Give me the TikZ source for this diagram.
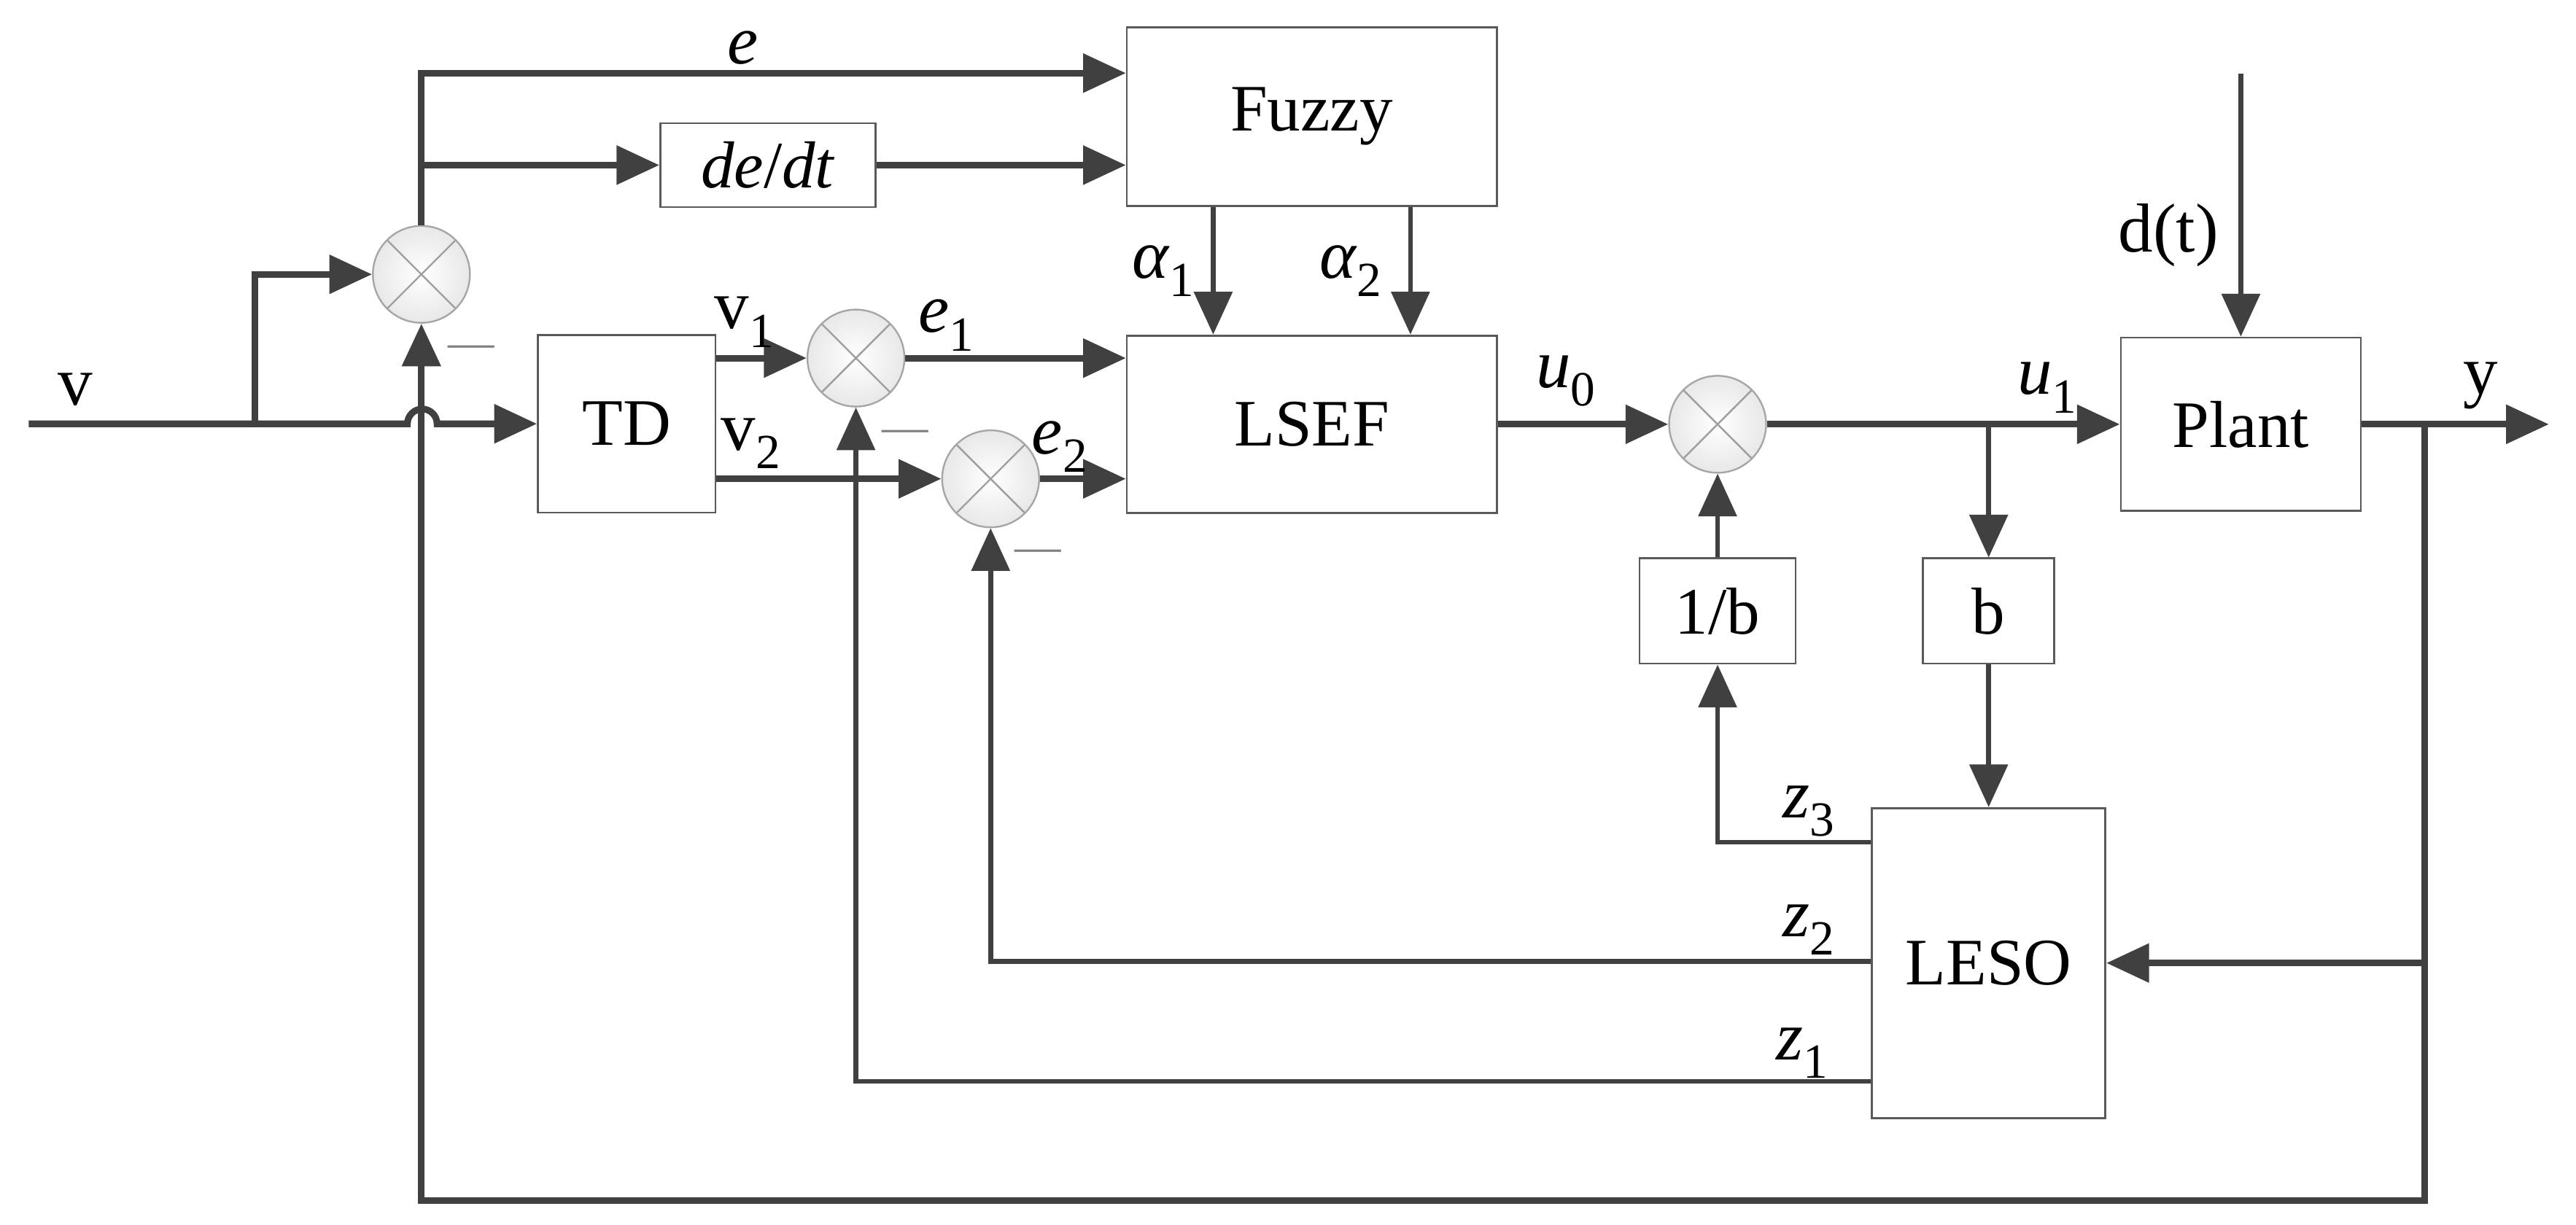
\documentclass[tikz,border=0pt]{standalone}
\usepackage{fontspec}
\setmainfont{Liberation Serif}
\usetikzlibrary{arrows.meta,calc}
\definecolor{ln}{HTML}{404040}
\definecolor{bx}{HTML}{5A5A5A}
\newcommand\sbx[1]{\raisebox{-3.2pt}{\fontsize{8.5}{8.5}\selectfont #1}}
\begin{document}
\begin{tikzpicture}[x=0.01cm,y=-0.01cm,
  font=\fontsize{12}{14}\selectfont,
  >={Triangle[length=0.26cm,width=0.23cm]},
  blk/.style={draw=bx,line width=0.35pt,inner sep=0pt,font=\fontsize{11.5}{13.5}\selectfont},
  sumj/.style={circle,draw=gray!70,line width=0.3pt,inner sep=0pt,minimum size=0.59cm,
    inner color=white,outer color=gray!18,
    path picture={\draw[gray!75,line width=0.3pt]
      (path picture bounding box.north west)--(path picture bounding box.south east)
      (path picture bounding box.north east)--(path picture bounding box.south west);}},
  arr/.style={draw=ln,line width=1.15pt,->},
  arrm/.style={draw=ln,line width=0.85pt,->},
  minus/.style={text=gray,font=\fontsize{8}{8}\selectfont,inner sep=0pt}
]
\useasboundingbox (0,0) rectangle (1568,745.8);
\fill[white] (0,0) rectangle (1568,745.8);

% blocks
\node[blk,minimum width=2.25cm,minimum height=1.09cm] (Fuzzy) at (798.5,71) {Fuzzy};
\node[blk,minimum width=1.31cm,minimum height=0.51cm] (dedt) at (467.5,100.5) {\textit{de}/\textit{dt}};
\node[blk,minimum width=1.08cm,minimum height=1.08cm] (TD) at (381.5,258) {TD};
\node[blk,minimum width=2.25cm,minimum height=1.08cm] (LSEF) at (798.5,258.3) {LSEF};
\node[blk,minimum width=1.46cm,minimum height=1.055cm] (Plant) at (1364,258.3) {Plant};
\node[blk,minimum width=0.95cm,minimum height=0.64cm] (inv) at (1045.5,372) {1/b};
\node[blk,minimum width=0.8cm,minimum height=0.64cm] (bb) at (1210.5,372) {b};
\node[blk,minimum width=1.42cm,minimum height=1.885cm] (LESO) at (1210.5,586.3) {LESO};

% summing junctions
\node[sumj] (s1) at (256.5,167) {};
\node[sumj] (s2) at (521,218) {};
\node[sumj] (s3) at (603,291.5) {};
\node[sumj] (s4) at (1045.5,258.3) {};

% free ends and branch points
\coordinate (vin) at (17.5,258);
\coordinate (vb) at (155,258);
\coordinate (yout) at (1551.5,258.3);
\coordinate (yb) at (1476,258.3);
\coordinate (ybot) at (1476,731);
\coordinate (dtin) at (1364,45);

% input and error paths
\draw[arr] (vin) -- (248,258) arc[start angle=180,end angle=0,radius=0.09cm] -- (TD.west);
\draw[arr] (vb) |- (s1.west);
\draw[arr] (s1.north) |- ([yshift=0.265cm]Fuzzy.west);
\draw[arr] (s1.north |- dedt.west) -- (dedt.west);
\draw[arr] (dedt.east) -- (dedt.east -| Fuzzy.west);
\draw[arrm] ([xshift=-0.6cm]Fuzzy.south) -- ([xshift=-0.6cm]LSEF.north);
\draw[arrm] ([xshift=0.6cm]Fuzzy.south) -- ([xshift=0.6cm]LSEF.north);

\draw[arr] (TD.east |- s2.west) -- (s2.west);
\draw[arr] (TD.east |- s3.west) -- (s3.west);
\draw[arr] (s2.east) -- (s2.east -| LSEF.west);
\draw[arr] (s3.east) -- (s3.east -| LSEF.west);

\draw[arr] (LSEF.east) -- (s4.west);
\draw[arr] (s4.east) -- (Plant.west);
\draw[arrm] (bb.north |- s4.east) -- (bb.north);
\draw[arrm] (bb.south) -- (LESO.north);
\draw[arrm] (inv.north) -- (s4.south);
\draw[arrm] (dtin) -- (Plant.north);

\draw[arr] (Plant.east) -- (yout);
\draw[arr] (yb) |- (LESO.east);
\draw[arr] (yb) -- (ybot) -| (s1.south);

\draw[arrm] ([yshift=0.735cm]LESO.west) -| (inv.south);
\draw[arrm] ([yshift=0.01cm]LESO.west) -| (s3.south);
\draw[arrm] ([yshift=-0.72cm]LESO.west) -| (s2.south);

% labels
\node (lv) at (46,237) {v};
\node (le) at (452,29) {\textit{e}};
\node (la1) at (708,165) {\textit{α}\sbx{1}};
\node (la2) at (822,165) {\textit{α}\sbx{2}};
\node (lv1) at (453,196) {v\sbx{1}};
\node (lv2) at (457,270) {v\sbx{2}};
\node (le1) at (576,198) {\textit{e}\sbx{1}};
\node (le2) at (645,272) {\textit{e}\sbx{2}};
\node (lu0) at (953,232) {\textit{u}\sbx{0}};
\node (lu1) at (1246,236) {\textit{u}\sbx{1}};
\node (ldt) at (1320,143) {d(t)};
\node (ly) at (1510,235) {y};
\node (lz3) at (1101,494) {\textit{z}\sbx{3}};
\node (lz2) at (1101,566) {\textit{z}\sbx{2}};
\node (lz1) at (1097,641) {\textit{z}\sbx{1}};
\node[minus] (m1) at (287,214) {—};
\node[minus] (m2) at (551,265.6) {—};
\node[minus] (m3) at (632,338.6) {—};
\end{tikzpicture}
\end{document}
